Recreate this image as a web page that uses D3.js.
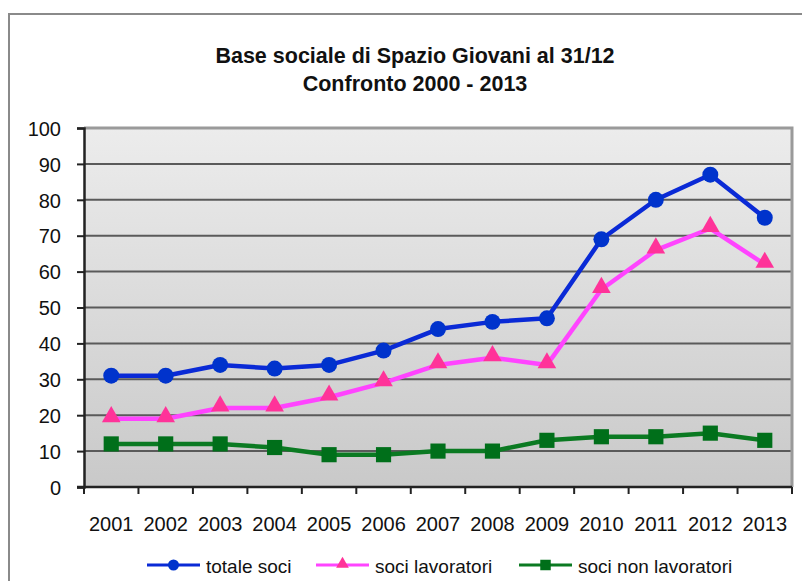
<!DOCTYPE html>
<html>
  <head>
    <meta charset="utf-8">
    <script type="text/javascript" src="https://d3js.org/d3.v7.min.js"></script>
    <style>
        body { margin:0; background:#fff; }
        svg { display:block; }
        text { font-family: "Liberation Sans", Arial, sans-serif; fill:#111; }
    </style>
  </head>
  <body>
    <script type="text/javascript">
      // values
      var years = ["2001","2002","2003","2004","2005","2006","2007","2008","2009","2010","2011","2012","2013"];
      var totaleSoci = [31, 31, 34, 33, 34, 38, 44, 46, 47, 69, 80, 87, 75];
      var sociLavoratori = [19, 19, 22, 22, 25, 29, 34, 36, 34, 55, 66, 72, 62];
      var sociNonLavoratori = [12, 12, 12, 11, 9, 9, 10, 10, 13, 14, 14, 15, 13];
      var yTicks = [0, 10, 20, 30, 40, 50, 60, 70, 80, 90, 100];
      var titleLines = ["Base sociale di Spazio Giovani al 31/12", "Confronto 2000 - 2013"];

      var series = [
        { name: "totale soci", values: totaleSoci, line: "#0a2ad6", mark: "#0033cc", shape: "circle" },
        { name: "soci lavoratori", values: sociLavoratori, line: "#ff44ff", mark: "#ff3399", shape: "triangle" },
        { name: "soci non lavoratori", values: sociNonLavoratori, line: "#0b7a22", mark: "#006f1a", shape: "square" }
      ];

      var width = 802, height = 581;
      var plotL = 84, plotR = 792, plotT = 128, plotB = 487;

      var svg = d3.select("body").append("svg")
          .attr("width", width)
          .attr("height", height);

      // outer frame (top and left edges are visible)
      svg.append("path")
          .attr("d", "M9,581 V14 H802")
          .attr("fill", "none")
          .attr("stroke", "#8a8a8a")
          .attr("stroke-width", 2);

      var x = d3.scaleBand().domain(years).range([plotL, plotR]).padding(0);
      var y = d3.scaleLinear().domain([0, 100]).range([plotB, plotT]);
      var cx = function(d) { return x(d) + x.bandwidth() / 2; };

      var grad = svg.append("defs").append("linearGradient")
          .attr("id", "bg").attr("x1", 0).attr("y1", 0).attr("x2", 0).attr("y2", 1);
      grad.append("stop").attr("offset", "0%").attr("stop-color", "#ececec");
      grad.append("stop").attr("offset", "100%").attr("stop-color", "#c9c9c9");

      svg.append("rect")
          .attr("x", plotL).attr("y", plotT)
          .attr("width", plotR - plotL).attr("height", plotB - plotT)
          .attr("fill", "url(#bg)");

      // gridlines
      svg.selectAll(".grid")
        .data(yTicks.filter(function(d) { return d > 0 && d < 100; }))
        .enter().append("line")
          .attr("x1", plotL).attr("x2", plotR)
          .attr("y1", function(d) { return y(d); })
          .attr("y2", function(d) { return y(d); })
          .attr("stroke", "#5a5a5a")
          .attr("stroke-width", 2);

      // plot border top / right
      svg.append("path")
          .attr("d", "M" + plotL + "," + plotT + " H" + plotR + " V" + plotB)
          .attr("fill", "none")
          .attr("stroke", "#9a9a9a")
          .attr("stroke-width", 3);

      // y axis
      var yAxis = svg.append("g")
          .attr("transform", "translate(" + plotL + ",0)")
          .call(d3.axisLeft(y).tickValues(yTicks).tickSize(7).tickPadding(16));
      yAxis.select(".domain").attr("stroke", "#222").attr("stroke-width", 2.5);
      yAxis.selectAll(".tick line").attr("stroke", "#222").attr("stroke-width", 2);
      yAxis.selectAll("text")
          .style("font-size", "20px")
          .attr("fill", "#111")
          .attr("dy", "0.36em");

      // x axis: labels at centers, ticks between categories
      var xAxis = svg.append("g")
          .attr("transform", "translate(0," + plotB + ")")
          .call(d3.axisBottom(x).tickSize(0).tickPadding(30));
      xAxis.select(".domain").remove();
      xAxis.selectAll("text")
          .style("font-size", "20px")
          .attr("fill", "#111");

      svg.append("line")
          .attr("x1", plotL - 7).attr("x2", plotR)
          .attr("y1", plotB).attr("y2", plotB)
          .attr("stroke", "#222").attr("stroke-width", 2.5);

      svg.selectAll(".xtick")
        .data(years.concat(["end"]))
        .enter().append("line")
          .attr("x1", function(d, i) { return i < years.length ? x(d) : plotR; })
          .attr("x2", function(d, i) { return i < years.length ? x(d) : plotR; })
          .attr("y1", plotB).attr("y2", plotB + 7)
          .attr("stroke", "#222").attr("stroke-width", 2);

      var symbolOf = function(shape, size) {
        var t = shape === "circle" ? d3.symbolCircle : shape === "triangle" ? d3.symbolTriangle : d3.symbolSquare;
        return d3.symbol().type(t).size(size)();
      };
      var markSize = { circle: 200, triangle: 150, square: 230 };

      var line = d3.line()
          .x(function(d, i) { return cx(years[i]); })
          .y(function(d) { return y(d); });

      series.forEach(function(s) {
        svg.append("path")
            .attr("d", line(s.values))
            .attr("fill", "none")
            .attr("stroke", s.line)
            .attr("stroke-width", 4.5)
            .attr("stroke-linejoin", "round");
        svg.selectAll(".m-" + s.shape)
          .data(s.values)
          .enter().append("path")
            .attr("transform", function(d, i) {
              var dy = s.shape === "triangle" ? -2 : 0;
              return "translate(" + cx(years[i]) + "," + (y(d) + dy) + ")";
            })
            .attr("d", symbolOf(s.shape, markSize[s.shape]))
            .attr("fill", s.mark);
      });

      // title
      svg.selectAll(".title")
        .data(titleLines)
        .enter().append("text")
          .attr("x", 415)
          .attr("y", function(d, i) { return 63 + i * 28; })
          .attr("text-anchor", "middle")
          .style("font-size", "21.5px")
          .style("font-weight", "bold")
          .text(function(d) { return d; });

      // legend
      var legendX = [147, 316, 519];
      var legendSize = { circle: 95, triangle: 70, square: 110 };
      series.forEach(function(s, i) {
        var g = svg.append("g").attr("transform", "translate(" + legendX[i] + ",565)");
        g.append("line")
            .attr("x1", 0).attr("x2", 53)
            .attr("stroke", s.line).attr("stroke-width", 3);
        g.append("path")
            .attr("transform", "translate(26.5," + (s.shape === "triangle" ? -1 : 0) + ")")
            .attr("d", symbolOf(s.shape, legendSize[s.shape]))
            .attr("fill", s.mark);
        g.append("text")
            .attr("x", 59).attr("y", 8)
            .style("font-size", "19px")
            .text(s.name);
      });
    </script>
  </body>
</html>
